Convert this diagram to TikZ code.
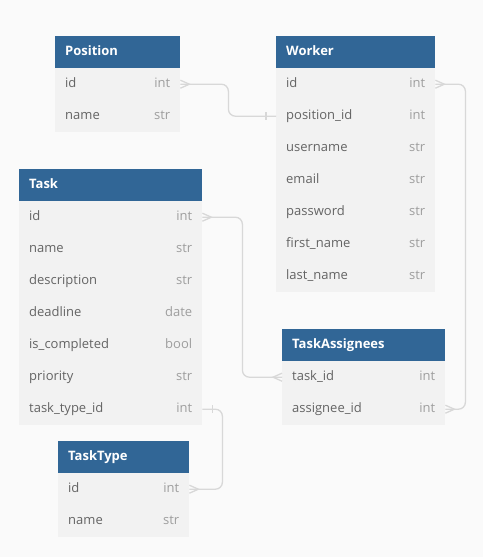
\documentclass[tikz,border=0pt]{standalone}
\usepackage{fontspec}
\setmainfont{Open Sans}
\definecolor{headblue}{RGB}{49,102,150}
\definecolor{rowgray}{RGB}{242,242,242}
\definecolor{pagegray}{RGB}{250,250,250}
\definecolor{namegray}{RGB}{100,100,100}
\definecolor{typegray}{RGB}{158,158,158}
\definecolor{linkgray}{RGB}{216,216,216}

\begin{document}
\begin{tikzpicture}[x = 1pt, y = -1pt,
  thead/.style = {anchor = north west, fill = headblue, text = white, font = \fontsize{13}{15}\selectfont\bfseries,
    text width = #1, minimum height = 32pt, inner xsep = 10pt, inner ysep = 0pt, text height = 9pt, text depth = 3pt},
  trow/.style = {anchor = north west, fill = rowgray, text = namegray, font = \fontsize{13}{15}\selectfont,
    text width = #1, minimum height = 32pt, inner xsep = 10pt, inner ysep = 0pt, text height = 9pt, text depth = 3pt},
  ttype/.style = {anchor = east, text = typegray, font = \fontsize{13}{15}\selectfont, inner sep = 0pt,
    text height = 9pt, text depth = 3pt},
  link/.style = {draw = linkgray, line width = 1.3pt, rounded corners = 7pt}]
\path [fill = pagegray] (0,0) rectangle (483,557); % page
% Position
\node [thead = 105pt] (pos) at (55,36) {Position};
\node [trow = 105pt] (pos-id) at (55,68) {id};
\node [trow = 105pt] (pos-name) at (55,100) {name};
\node [ttype] at ([xshift = -10pt]pos-id.east) {int};
\node [ttype] at ([xshift = -10pt]pos-name.east) {str};
% Worker
\node [thead = 139pt] (wk) at (276,36) {Worker};
\node [trow = 139pt] (wk-id) at (276,68) {id};
\node [trow = 139pt] (wk-pos) at (276,100) {position\_id};
\node [trow = 139pt] (wk-user) at (276,132) {username};
\node [trow = 139pt] (wk-mail) at (276,164) {email};
\node [trow = 139pt] (wk-pass) at (276,196) {password};
\node [trow = 139pt] (wk-first) at (276,228) {first\_name};
\node [trow = 139pt] (wk-last) at (276,260) {last\_name};
\node [ttype] at ([xshift = -10pt]wk-id.east) {int};
\node [ttype] at ([xshift = -10pt]wk-pos.east) {int};
\node [ttype] at ([xshift = -10pt]wk-user.east) {str};
\node [ttype] at ([xshift = -10pt]wk-mail.east) {str};
\node [ttype] at ([xshift = -10pt]wk-pass.east) {str};
\node [ttype] at ([xshift = -10pt]wk-first.east) {str};
\node [ttype] at ([xshift = -10pt]wk-last.east) {str};
% Task
\node [thead = 163pt] (task) at (19,169) {Task};
\node [trow = 163pt] (task-id) at (19,201) {id};
\node [trow = 163pt] (task-name) at (19,233) {name};
\node [trow = 163pt] (task-desc) at (19,265) {description};
\node [trow = 163pt] (task-dead) at (19,297) {deadline};
\node [trow = 163pt] (task-done) at (19,329) {is\_completed};
\node [trow = 163pt] (task-prio) at (19,361) {priority};
\node [trow = 163pt] (task-type) at (19,393) {task\_type\_id};
\node [ttype] at ([xshift = -10pt]task-id.east) {int};
\node [ttype] at ([xshift = -10pt]task-name.east) {str};
\node [ttype] at ([xshift = -10pt]task-desc.east) {str};
\node [ttype] at ([xshift = -10pt]task-dead.east) {date};
\node [ttype] at ([xshift = -10pt]task-done.east) {bool};
\node [ttype] at ([xshift = -10pt]task-prio.east) {str};
\node [ttype] at ([xshift = -10pt]task-type.east) {int};
% TaskAssignees
\node [thead = 143pt] (ta) at (282,329) {TaskAssignees};
\node [trow = 143pt] (ta-task) at (282,361) {task\_id};
\node [trow = 143pt] (ta-asg) at (282,393) {assignee\_id};
\node [ttype] at ([xshift = -10pt]ta-task.east) {int};
\node [ttype] at ([xshift = -10pt]ta-asg.east) {int};
% TaskType
\node [thead = 111pt] (tt) at (58,441) {TaskType};
\node [trow = 111pt] (tt-id) at (58,473) {id};
\node [trow = 111pt] (tt-name) at (58,505) {name};
\node [ttype] at ([xshift = -10pt]tt-id.east) {int};
\node [ttype] at ([xshift = -10pt]tt-name.east) {str};
% links
\draw [link] (pos-id.east) -- ++(48,0) |- (wk-pos.west);
\draw [link] (wk-id.east) -- ++(30,0) |- (ta-asg.east);
\draw [link] (task-id.east) -- ++(40,0) |- (ta-task.west);
\draw [link] (task-type.east) -- ++(20,0) |- (tt-id.east);
% crow feet and bars
\draw [link, sharp corners] ([yshift = 4pt]pos-id.east) -- ++(9,4) -- ++(-9,4);
\draw [link, sharp corners] ([yshift = 4pt]wk-id.east) -- ++(9,4) -- ++(-9,4);
\draw [link, sharp corners] ([yshift = 4pt]ta-asg.east) -- ++(9,4) -- ++(-9,4);
\draw [link, sharp corners] ([yshift = 4pt]task-id.east) -- ++(9,4) -- ++(-9,4);
\draw [link, sharp corners] ([yshift = 4pt]ta-task.west) -- ++(-9,4) -- ++(9,4);
\draw [link, sharp corners] ([yshift = 4pt]tt-id.east) -- ++(9,4) -- ++(-9,4);
\draw [link] ([xshift = -10pt, yshift = 4pt]wk-pos.west) -- ++(0,8);
\draw [link] ([xshift = 10pt, yshift = 4pt]task-type.east) -- ++(0,8);
\end{tikzpicture}
\end{document}
